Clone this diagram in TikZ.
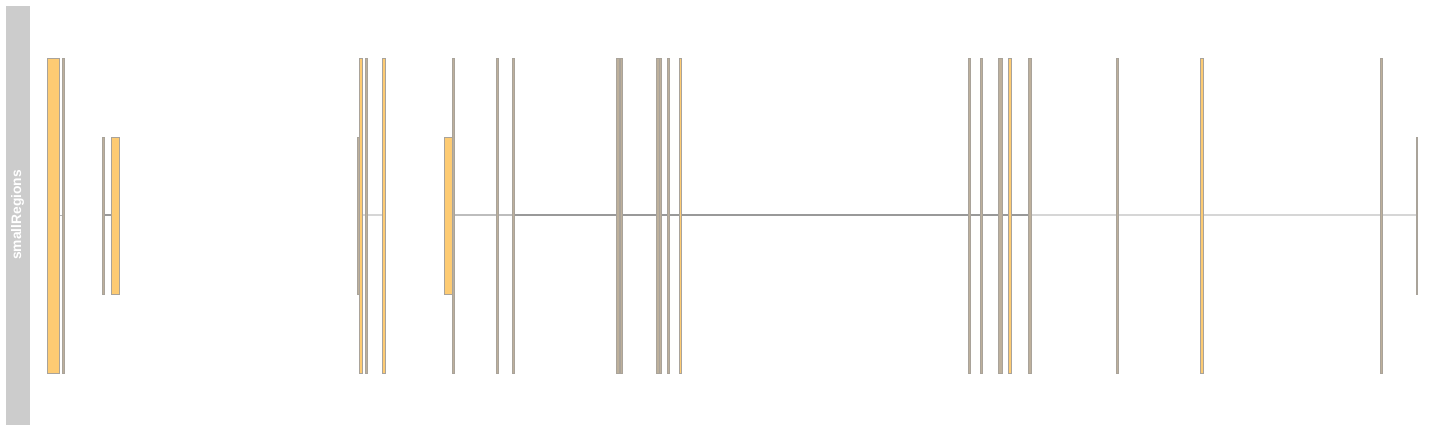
\documentclass[tikz,border=0pt]{standalone}
\usepackage{fontspec}
\setmainfont{Liberation Sans}
\definecolor{barfill}{HTML}{FDCB73}
\definecolor{bardraw}{HTML}{A9A39A}
\definecolor{greyfill}{HTML}{BDB09C}
\definecolor{panel}{HTML}{CCCCCC}
\definecolor{lineA}{HTML}{B3B3B3}
\definecolor{lineB}{HTML}{999999}
\definecolor{lineC}{HTML}{D6D6D6}
\definecolor{lineD}{HTML}{BDBDBD}
\tikzset{
  bar/.style={fill=barfill, draw=bardraw, line width=0.9pt},
  greybar/.style={fill=greyfill, draw=bardraw, line width=0.9pt},
  conn/.style={line width=1.8pt},
}
\newcommand{\topbar}[3][bar]{\draw[#1] (#2,58) rectangle (#3,373);}
\newcommand{\midbar}[3][bar]{\draw[#1] (#2,137) rectangle (#3,294);}
\begin{document}
\begin{tikzpicture}[x=1pt,y=-1pt]
\useasboundingbox (0,0) rectangle (1440,432);
\fill[white] (0,0) rectangle (1440,432);
% title panel
\fill[panel] (6,6) rectangle (30,425);
\node[rotate=90, text=white, font=\bfseries\fontsize{13.8}{14}\selectfont, inner sep=0pt] (title) at (17.5,215) {smallRegions};
% connecting lines
\draw[conn, lineA, line width=1pt] (59,215) -- (63,215);
\draw[conn, lineB] (104,215) -- (111,215);
\draw[conn, lineC] (359,215) -- (383,215);
\draw[conn, lineD] (452,215) -- (513,215);
\draw[conn, lineB] (513,215) -- (1030,215);
\draw[conn, lineC] (1030,215) -- (1416,215);
% top row bars
\topbar{47}{59.5}
\topbar[greybar]{62.3}{64.6}
\topbar{359.5}{362.8}
\topbar[greybar]{365.3}{367.6}
\topbar{382.5}{385.8}
\topbar[greybar]{452.3}{454.6}
\topbar[greybar]{496.3}{498.4}
\topbar[greybar]{512.3}{514.6}
\topbar[greybar]{616.4}{619}
\topbar[greybar]{620}{622.4}
\topbar[greybar]{656.4}{659}
\topbar[greybar]{659.6}{661.9}
\topbar[greybar]{667.2}{669}
\topbar{679.6}{681.6}
\topbar[greybar]{968.2}{970.4}
\topbar[greybar]{980.3}{982}
\topbar[greybar]{998.2}{1002.6}
\topbar{1008.8}{1011.4}
\topbar[greybar]{1028.3}{1031.6}
\topbar[greybar]{1116.3}{1118.4}
\topbar{1200.5}{1203.4}
\topbar[greybar]{1380.5}{1382.6}
% middle row bars
\midbar[greybar]{102.2}{104.4}
\midbar{111.3}{119.2}
\midbar[greybar]{357.2}{359.4}
\midbar{444.3}{452.2}
\midbar[greybar]{1416.1}{1417.6}
\end{tikzpicture}
\end{document}
